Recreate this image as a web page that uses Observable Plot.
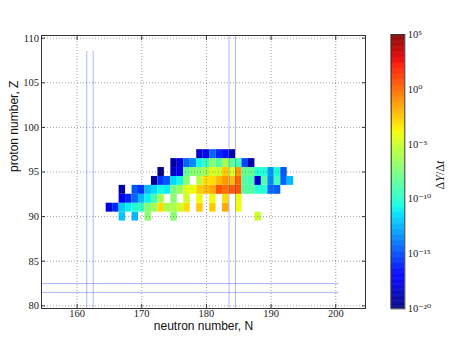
<!DOCTYPE html>
<html><head><meta charset="utf-8">
<script src="https://cdn.jsdelivr.net/npm/d3@7"></script>
<script src="https://cdn.jsdelivr.net/npm/@observablehq/plot@0.6"></script>
<style>
body{margin:0;background:#fff;}
#wrap{position:relative;width:457px;height:343px;overflow:hidden;background:#fff;}
#wrap svg{position:absolute;top:0;}
#cblabel{position:absolute;left:440px;top:175px;transform:translate(-50%,-50%) rotate(-90deg);font-family:"Liberation Serif",serif;font-size:12px;white-space:nowrap;color:#111;}
</style></head><body><div id="wrap"></div>
<script>
const _ = null;
// log10(ΔY/Δt) per cell, index 0 -> N = 165 ... index 28 -> N = 193
const N_FIRST = 165;
const logY_Z90 = [_,_,-11.9,_,-12.3,_,-7.1,_,_,_,-7.1,_,_,_,_,_,_,_,_,_,_,_,_,-5.0,_,_,_,_,_];
const logY_Z91 = [-18.0,-16.0,-11.9,-11.0,-10.2,-9.7,-7.1,-6.6,-3.1,-6.1,-6.1,-5.0,-3.1,_,-2.6,_,-2.6,_,-1.7,_,-4.0,_,_,_,_,_,_,_,_];
const logY_Z92 = [_,_,-17.6,-16.0,-14.4,-12.3,-11.0,-9.2,-6.1,_,-7.1,_,-5.0,_,-4.0,_,-4.0,_,-3.1,_,-4.0,_,_,_,_,_,_,_,_];
const logY_Z93 = [_,_,-19.1,_,-14.8,-15.6,-12.3,-11.5,-10.7,-11.0,-7.6,-6.6,-4.5,-4.0,-2.6,-2.2,-1.7,0.5,-0.2,0.3,0.6,-8.7,-8.7,-10.2,-10.2,-14.4,-14.6,_,_];
const logY_Z94 = [_,_,_,_,_,_,_,-19.5,-15.6,-14.8,-11.5,-10.7,-7.1,_,-5.6,-3.1,-3.1,-2.2,-1.3,-2.2,0.0,-8.7,-9.2,-18.4,-8.7,-13.5,-9.2,-14.4,-12.3];
const logY_Z95 = [_,_,_,_,_,_,_,_,-19.8,_,-18.4,-17.6,-8.2,-7.1,-7.1,-6.1,-4.5,-5.0,-2.6,-4.5,-1.3,-8.2,-8.2,-10.2,-10.2,-13.1,-10.2,-14.8,_];
const logY_Z96 = [_,_,_,_,_,_,_,_,_,_,-19.1,-18.0,-14.4,-13.5,-10.7,-9.7,-7.1,-8.7,-6.1,-8.2,-9.2,-15.2,-19.1,_,_,_,_,_,_];
const logY_Z97 = [_,_,_,_,_,_,_,_,_,_,_,_,_,_,-18.4,-17.6,-14.4,-16.0,-16.5,-19.1,_,_,_,_,_,_,_,_,_];
const protonNumbers = [90,91,92,93,94,95,96,97];
const rows = [logY_Z90,logY_Z91,logY_Z92,logY_Z93,logY_Z94,logY_Z95,logY_Z96,logY_Z97];

const xTicks = [160,170,180,190,200];
const yTicks = [80,85,90,95,100,105,110];
const cbTicks = [-20,-15,-10,-5,0,5];

// shell closure guide lines (N = 162, 184 ; Z = 82), drawn at ±0.5
const shellN = [162,184];
const shellNTop = [108.5,111];
const shellZ = [82];
const shellZRight = [200.5];

const cells = [];
rows.forEach((r, j) => r.forEach((v, i) => { if (v != null) cells.push({N: N_FIRST + i, Z: protonNumbers[j], e: v}); }));
const vLines = shellN.flatMap((n, i) => [{N: n - 0.5, top: shellNTop[i]}, {N: n + 0.5, top: shellNTop[i]}]);
const hLines = shellZ.flatMap((z, i) => [{Z: z - 0.5, right: shellZRight[i]}, {Z: z + 0.5, right: shellZRight[i]}]);

function pw(pts, t){
  for (let k = 1; k < pts.length; k++) {
    if (t <= pts[k][0]) { const [a, va] = pts[k-1], [b, vb] = pts[k]; return va + (vb - va) * (t - a) / (b - a); }
  }
  return pts[pts.length-1][1];
}
const R = [[0,0],[0.35,0],[0.66,1],[0.89,1],[1,0.5]];
const G = [[0,0],[0.125,0],[0.375,1],[0.64,1],[0.91,0],[1,0]];
const B = [[0,0.5],[0.11,1],[0.34,1],[0.65,0],[1,0]];
function jet(t){
  t = Math.max(0, Math.min(1, t));
  return `rgb(${Math.round(255*pw(R,t))},${Math.round(255*pw(G,t))},${Math.round(255*pw(B,t))})`;
}
const colorOpts = {type: "linear", domain: [-20, 5], interpolate: jet};
const serif = "'Liberation Serif', 'DejaVu Serif', serif";
const sans = "'Liberation Sans', Arial, sans-serif";
const lineBlue = "#2233ff";

const main = Plot.plot({
  width: 457, height: 343,
  marginLeft: 41, marginRight: 92, marginTop: 35, marginBottom: 35,
  style: {fontFamily: serif, fontSize: "10.5px", color: "#222", background: "transparent"},
  x: {domain: [154.5, 204.6]},
  y: {domain: [79.7, 110.3]},
  color: colorOpts,
  marks: [
    Plot.rect(cells, {x1: d => d.N - 0.5, x2: d => d.N + 0.5, y1: d => d.Z - 0.5, y2: d => d.Z + 0.5, fill: "e"}),
    Plot.gridX(xTicks, {stroke: "#555", strokeOpacity: 0.7, strokeWidth: 0.8, strokeDasharray: "1,2"}),
    Plot.gridY(yTicks, {stroke: "#555", strokeOpacity: 0.7, strokeWidth: 0.8, strokeDasharray: "1,2"}),
    Plot.ruleX(vLines, {x: "N", y1: 79, y2: "top", stroke: lineBlue, strokeOpacity: 0.35, strokeWidth: 1, clip: true}),
    Plot.ruleY(hLines, {y: "Z", x1: 154, x2: "right", stroke: lineBlue, strokeOpacity: 0.35, strokeWidth: 1, clip: true}),
    Plot.axisX(xTicks, {anchor: "bottom", tickSize: -4, tickPadding: 5.5, label: null, stroke: "#333"}),
    Plot.axisX(xTicks, {anchor: "top", tickSize: -4, tickFormat: () => "", label: null, stroke: "#333"}),
    Plot.axisY(yTicks, {anchor: "left", tickSize: -4, tickPadding: 6.5, label: null, stroke: "#333"}),
    Plot.axisY(yTicks, {anchor: "right", tickSize: -4, tickFormat: () => "", label: null, stroke: "#333"}),
    Plot.text(["neutron number, N"], {text: d => d, frameAnchor: "bottom", dy: 21.5, fontFamily: sans, fontSize: 12, fill: "#111"}),
    Plot.text(["proton number, Z"], {text: d => d, frameAnchor: "left", dx: -27, rotate: -90, fontFamily: sans, fontSize: 12, fill: "#111"}),
    Plot.frame({stroke: "#333", strokeWidth: 1})
  ]
});

const supMap = {"0":"⁰","1":"¹","2":"²","3":"³","4":"⁴","5":"⁵","6":"⁶","7":"⁷","8":"⁸","9":"⁹","-":"⁻"};
const sup = k => "10" + String(k).split("").map(c => supMap[c]).join("");
const step = 0.05;
const cbSteps = d3.range(-20, 5, step);

const cb = Plot.plot({
  width: 77, height: 343,
  marginLeft: 10.7, marginRight: 52.7, marginTop: 34, marginBottom: 34.7,
  style: {fontFamily: serif, fontSize: "10.5px", color: "#222", background: "transparent"},
  y: {domain: [-20, 5]},
  color: colorOpts,
  marks: [
    Plot.rect(cbSteps, {y1: d => d, y2: d => Math.min(5, d + step * 1.6), fill: d => d + step / 2}),
    Plot.frame({stroke: "#333", strokeWidth: 1}),
    Plot.axisY(cbTicks, {anchor: "right", tickSize: 0, tickPadding: 3, tickFormat: sup, label: null})
  ]
});

const wrap = document.getElementById("wrap");
main.style.left = "0px";
cb.style.left = "380px";
wrap.appendChild(main);
wrap.appendChild(cb);
const lab = document.createElement("div");
lab.id = "cblabel";
lab.innerHTML = "Δ<i>Y</i>/Δ<i>t</i>";
wrap.appendChild(lab);
</script></body></html>
